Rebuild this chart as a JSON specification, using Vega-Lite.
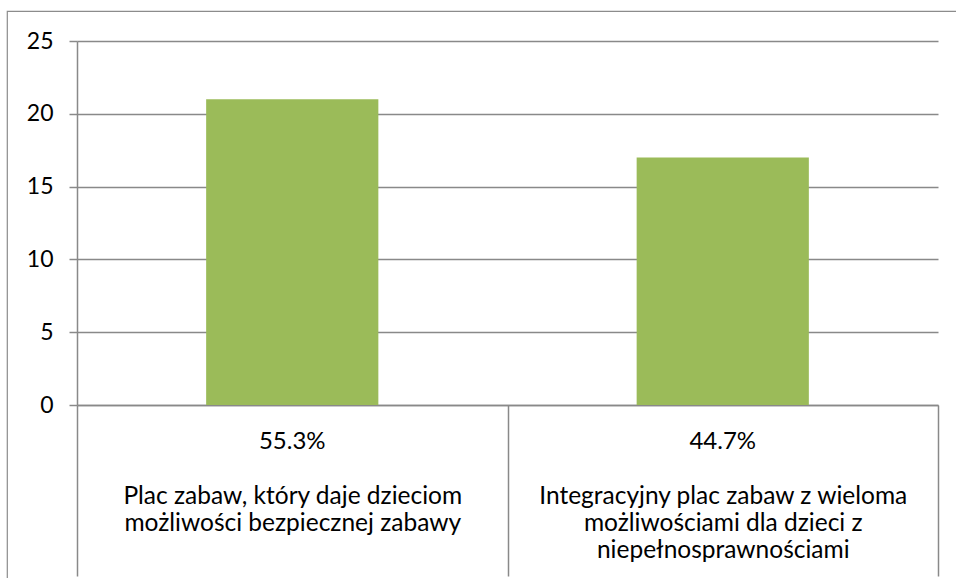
{
  "$schema": "https://vega.github.io/schema/vega-lite/v6.json",
  "width": 955,
  "height": 575,
  "autosize": "none",
  "padding": {"left": 7, "top": 11, "right": 0, "bottom": 0},
  "background": "white",
  "config": {
    "view": {"stroke": "#8c8c8c", "strokeWidth": 1.2},
    "font": "Lato",
    "axis": {"gridColor": "#898989", "domainColor": "#898989", "tickColor": "#898989", "gridWidth": 1.5, "domainWidth": 1.5, "tickWidth": 1.5, "labelColor": "#000000", "titleColor": "#000000"}
  },
  "data": {
    "values": [
      {"kategoria": "Plac zabaw, który daje dzieciom\nmożliwości bezpiecznej zabawy", "liczba": 21, "procent": "55.3%"},
      {"kategoria": "Integracyjny plac zabaw z wieloma\nmożliwościami dla dzieci z\nniepełnosprawnościami", "liczba": 17, "procent": "44.7%"}
    ]
  },
  "layer": [
    {
      "mark": {"type": "bar", "color": "#9BBB59", "width": {"band": 0.4}},
      "encoding": {
        "x": {
          "field": "kategoria", "type": "nominal", "sort": null,
          "scale": {"paddingInner": 0, "paddingOuter": 0, "range": [70, 931]},
          "axis": {
            "title": null, "labelAngle": 0, "labelLimit": 0, "offset": -181,
            "labelExpr": "split(datum.label, '\\n')",
            "labelFontSize": 24.5, "labelLineHeight": 27, "labelBaseline": "alphabetic",
            "tickBand": "extent", "tickSize": 171, "labelPadding": -73,
            "grid": false
          }
        },
        "y": {
          "field": "liczba", "type": "quantitative",
          "scale": {"domain": [0, 25], "nice": false, "range": [394, 30]},
          "axis": {"title": null, "values": [0, 5, 10, 15, 20, 25], "offset": -70, "tickSize": 8, "labelPadding": 16, "labelFontSize": 23, "grid": true}
        }
      }
    },
    {
      "mark": {"type": "text", "fontSize": 24, "baseline": "alphabetic", "dy": 44, "color": "#000000"},
      "encoding": {
        "x": {"field": "kategoria", "type": "nominal", "sort": null},
        "y": {"datum": 0},
        "text": {"field": "procent"}
      }
    }
  ]
}
